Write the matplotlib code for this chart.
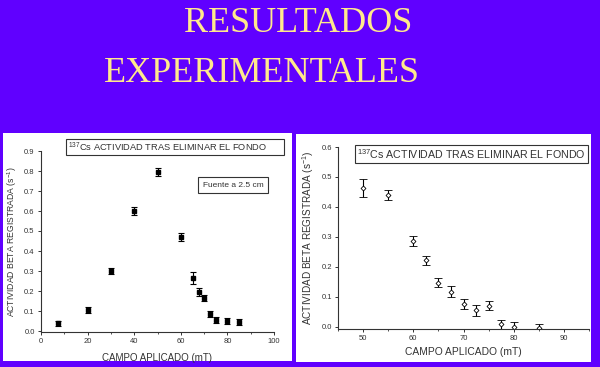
import matplotlib
matplotlib.use("Agg")
import matplotlib.pyplot as plt
from matplotlib.patches import Rectangle
from matplotlib.ticker import MultipleLocator

# datos: fuente a 2.5 cm (panel izquierdo)
campo1 = [7.3, 20, 30, 40, 50, 60, 65.3, 67.6, 70.1, 72.6, 75, 80, 85]
act1 = [0.038, 0.105, 0.300, 0.602, 0.797, 0.471, 0.263, 0.196, 0.165, 0.085, 0.055, 0.050, 0.045]
err1 = [0.012, 0.015, 0.017, 0.020, 0.020, 0.020, 0.030, 0.020, 0.015, 0.015, 0.015, 0.015, 0.015]

# datos: panel derecho
campo2 = [50, 55, 60, 62.5, 65, 67.5, 70, 72.5, 75, 77.5, 80, 85]
act2 = [0.464, 0.439, 0.287, 0.222, 0.148, 0.118, 0.076, 0.056, 0.070, 0.009, 0.000, -0.002]
err2 = [0.030, 0.016, 0.016, 0.015, 0.015, 0.018, 0.016, 0.018, 0.015, 0.015, 0.015, 0.012]

titulo1 = "RESULTADOS"
titulo2 = "EXPERIMENTALES"
leyenda = r"$^{137}$Cs ACTIVIDAD TRAS ELIMINAR EL FONDO"
fuente = "Fuente a 2.5 cm"
xlab = "CAMPO APLICADO (mT)"
ylab = r"ACTIVIDAD BETA REGISTRADA (s$^{-1}$)"

fondo = "#6000ff"
amarillo = "#ffe98c"
gris = "#333333"

plt.rcParams['font.family'] = ['Liberation Sans', 'DejaVu Sans']
plt.rcParams['mathtext.fontset'] = 'custom'
plt.rcParams['mathtext.rm'] = 'Liberation Sans'

fig = plt.figure(figsize=(6, 3.67), dpi=100, facecolor=fondo)

# titulo
fig.text(298/600, 1 - 24/367, titulo1, family='Liberation Serif', fontsize=26,
         color=amarillo, ha='center', va='center')
fig.text(262/600, 1 - 73/367, titulo2, family='Liberation Serif', fontsize=26,
         color=amarillo, ha='center', va='center')

# paneles blancos
for r in [[3/600, 6/367, 289/600, 228/367], [296/600, 5/367, 295/600, 228/367]]:
    p = fig.add_axes(r)
    p.set_facecolor('white')
    p.set_xticks([])
    p.set_yticks([])
    for s in p.spines.values():
        s.set_visible(False)


def estilo(ax, fx, fy, px):
    ax.set_facecolor('none')
    ax.spines['top'].set_visible(False)
    ax.spines['right'].set_visible(False)
    ax.spines['left'].set_color(gris)
    ax.spines['bottom'].set_color(gris)
    ax.spines['left'].set_linewidth(0.8)
    ax.spines['bottom'].set_linewidth(0.8)
    ax.tick_params(labelsize=5.5, colors=gris, length=2.5, width=0.7, pad=2)
    ax.tick_params(which='minor', length=1.5, width=0.6, colors=gris)
    ax.set_xlabel(xlab, fontsize=fx, color=gris, labelpad=px)
    ax.set_ylabel(ylab, fontsize=fy, color=gris, labelpad=4)


def caja(ax, x0, y0, x1, y1):
    ax.add_patch(Rectangle((x0, y0), x1 - x0, y1 - y0, transform=ax.transAxes,
                           fc='white', ec=gris, lw=0.8, clip_on=False, zorder=5))


# panel izquierdo
ax1 = fig.add_axes([41/600, 35/367, 233/600, 181/367])
ax1.errorbar(campo1, act1, yerr=err1, fmt='s', ms=3, color='black',
             ecolor='black', elinewidth=0.8, capsize=2.5, capthick=0.8)
ax1.set_xlim(0, 100)
ax1.set_ylim(-0.005, 0.9)
ax1.xaxis.set_major_locator(MultipleLocator(20))
ax1.xaxis.set_minor_locator(MultipleLocator(10))
ax1.yaxis.set_major_locator(MultipleLocator(0.1))
ax1.yaxis.set_major_formatter(plt.FormatStrFormatter('%.1f'))
estilo(ax1, 7, 6.2, 5.5)
caja(ax1, 0.107, 0.978, 1.043, 1.066)
ax1.text(0.116, 1.022, leyenda, transform=ax1.transAxes, fontsize=6.7, color=gris,
         va='center', ha='left', zorder=6, clip_on=False)
caja(ax1, 0.674, 0.768, 0.974, 0.856)
ax1.text(0.824, 0.812, fuente, transform=ax1.transAxes, fontsize=6, color=gris,
         va='center', ha='center', zorder=6)

# panel derecho
ax2 = fig.add_axes([338/600, 38/367, 251/600, 182/367])
ax2.errorbar(campo2, act2, yerr=err2, fmt='D', ms=2.5, mfc='white', mec='black',
             mew=0.6, color='black', ecolor='black', elinewidth=0.8,
             capsize=3, capthick=0.8)
ax2.set_xlim(45, 95)
ax2.set_ylim(-0.007, 0.6)
ax2.xaxis.set_major_locator(MultipleLocator(10))
ax2.xaxis.set_minor_locator(MultipleLocator(5))
ax2.yaxis.set_major_locator(MultipleLocator(0.1))
ax2.yaxis.set_major_formatter(plt.FormatStrFormatter('%.1f'))
estilo(ax2, 7.4, 7.2, 3.5)
caja(ax2, 0.068, 0.912, 0.996, 1.011)
ax2.text(0.076, 0.962, leyenda, transform=ax2.transAxes, fontsize=7.7, color=gris,
         va='center', ha='left', zorder=6, clip_on=False)

fig.savefig("out.png", dpi=100, facecolor=fondo)
